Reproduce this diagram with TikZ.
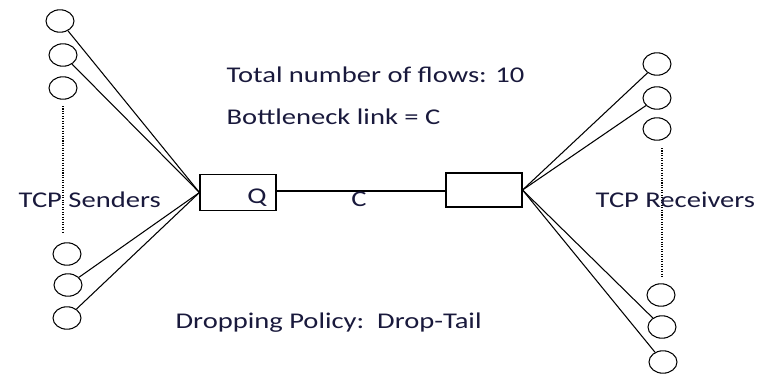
\documentclass[tikz,border=0pt]{standalone}
\usepackage{fontspec}
\setmainfont{Carlito}
\usetikzlibrary{shapes.geometric}
\definecolor{txtcol}{RGB}{25,25,60}
\begin{document}
\begin{tikzpicture}[
    x=0.025cm, y=-0.025cm,
    host/.style={ellipse, draw, line width=0.75pt, minimum width=0.7cm, minimum height=0.56cm, inner sep=0pt},
    router/.style={rectangle, draw, line width=0.75pt, inner sep=0pt},
    lbl/.style={font=\fontsize{16}{19}\selectfont, text=txtcol, inner sep=0pt, xscale=1.27, transform shape},
    every path/.style={line width=0.75pt}
]
\useasboundingbox (0,0) rectangle (758,376);

% Senders
\node[host] (S1) at (60,21) {};
\node[host] (S2) at (63,55) {};
\node[host] (S3) at (63,88) {};
\node[host] (S4) at (67,254) {};
\node[host] (S5) at (68,285) {};
\node[host] (S6) at (67,318) {};

% Receivers
\node[host] (R1) at (657,64) {};
\node[host] (R2) at (657,98) {};
\node[host] (R3) at (657,129) {};
\node[host] (R4) at (661,295) {};
\node[host] (R5) at (662,327) {};
\node[host] (R6) at (663,362) {};

% Routers
\node[router, minimum width=1.9cm, minimum height=0.92cm] (Qbox) at (238,192.5) {};
\node[router, minimum width=1.9cm, minimum height=0.85cm] (Rbox) at (484,190) {};

% Connections
\foreach \i in {1,2,5,6}
    \draw (S\i) -- (Qbox.west);

\foreach \i in {1,2,5,6}
    \draw (Rbox.east) -- (R\i);

\draw (Qbox.east |- 0,191) coordinate (linkL) -- (Rbox.west |- 0,191) coordinate (linkR);

% Dots
\coordinate (sTop) at (63,106);
\coordinate (sBot) at (63,233);
\coordinate (rTop) at (662,148);
\coordinate (rBot) at (662,277);
\draw[densely dotted, line width=1pt] (sTop) -- (sBot);
\draw[densely dotted, line width=1pt] (rTop) -- (rBot);

% Labels
\node[lbl, anchor=base] (qlbl) at (257,203) {Q};
\node[lbl, anchor=base] (clbl) at (359,206) {C};
\node[lbl, anchor=base west] (snd) at (18,207) {TCP Senders};
\node[lbl, anchor=base west] (rcv) at (595,207) {TCP Receivers};
\node[lbl, anchor=base west] (flows) at (226,82) {Total number of flows: 10};
\node[lbl, anchor=base west] (bneck) at (226,124) {Bottleneck link = C};
\node[lbl, anchor=base west] (drop) at (175,328) {Dropping Policy:\ \ Drop-Tail};

\end{tikzpicture}
\end{document}
